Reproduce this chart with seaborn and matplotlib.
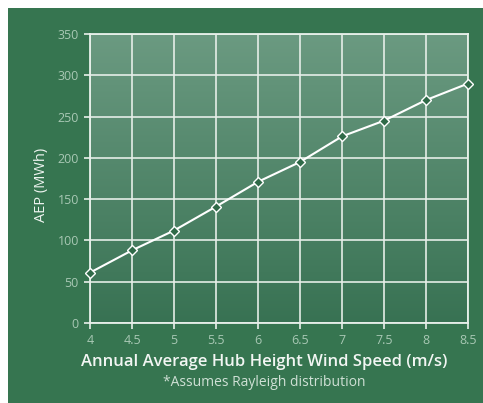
import numpy as np
import pandas as pd
import matplotlib
matplotlib.use('Agg')
import matplotlib.pyplot as plt
from matplotlib.colors import LinearSegmentedColormap
import seaborn as sns

# data
wind_speed = [4, 4.5, 5, 5.5, 6, 6.5, 7, 7.5, 8, 8.5]
aep_mwh = [61, 88, 112, 141, 171, 195, 226, 245, 270, 290]
x_ticks = [4, 4.5, 5, 5.5, 6, 6.5, 7, 7.5, 8, 8.5]
x_tick_labels = ['4', '4.5', '5', '5.5', '6', '6.5', '7', '7.5', '8', '8.5']
y_ticks = [0, 50, 100, 150, 200, 250, 300, 350]

df = pd.DataFrame({'speed': wind_speed, 'aep': aep_mwh})

sns.set_style('white')
plt.rcParams['font.family'] = ['Open Sans', 'DejaVu Sans']

bg_green = '#367550'
fig = plt.figure(figsize=(4.83, 4.03), dpi=100)
fig.patch.set_facecolor('white')

# green panel behind everything
bg = fig.add_axes([8 / 483, 0, 1 - 8 / 483, 1 - 8 / 403])
bg.set_axis_off()
bg.add_patch(plt.Rectangle((0, 0), 1, 1, transform=bg.transAxes, color=bg_green))
bg.set_zorder(0)

ax = fig.add_axes([90 / 483, 80 / 403, 378 / 483, 289 / 403])
ax.set_zorder(2)
ax.set_facecolor(bg_green)

# vertical gradient inside the plot area
cmap = LinearSegmentedColormap.from_list('panel', ['#387253', '#6b9a81'])
grad = np.linspace(0, 1, 256).reshape(-1, 1)
ax.imshow(grad, cmap=cmap, aspect='auto', origin='lower',
          extent=[4, 8.5, 0, 350], zorder=0)

sns.lineplot(data=df, x='speed', y='aep', ax=ax, color='white', linewidth=1.5,
             marker='D', markersize=5.5, markerfacecolor='#2f6a48',
             markeredgecolor='white', markeredgewidth=1.0, zorder=3, clip_on=False)

ax.set_xlim(4, 8.5)
ax.set_ylim(0, 350)
ax.set_xticks(x_ticks)
ax.set_xticklabels(x_tick_labels)
ax.set_yticks(y_ticks)
ax.grid(True, color='#e8f0ea', linewidth=1.3, alpha=0.9, zorder=1)
ax.set_axisbelow(False)
for s in ax.spines.values():
    s.set_color('#e8f0ea')
    s.set_linewidth(1.3)

ax.tick_params(axis='both', colors='#e8f0ea', length=4, width=1.2,
               labelcolor='#a8c8b4', labelsize=9, pad=4)
ax.tick_params(axis='x', direction='out', bottom=True)
ax.tick_params(axis='y', direction='out', left=True)

ax.set_xlabel('')
ax.set_ylabel('')
fig.text(41 / 483, 1 - 185 / 403, 'AEP (MWh)', rotation=90, ha='center', va='center',
         color='#eef4f0', fontsize=10.5)

fig.text(264 / 483, 1 - 362 / 403, 'Annual Average Hub Height Wind Speed (m/s)',
         ha='center', va='center', color='#f2f6f3', fontsize=12, fontweight='semibold')
fig.text(264 / 483, 1 - 382 / 403, '*Assumes Rayleigh distribution',
         ha='center', va='center', color='#cfe0d5', fontsize=10)

fig.savefig('out.png', dpi=100)
